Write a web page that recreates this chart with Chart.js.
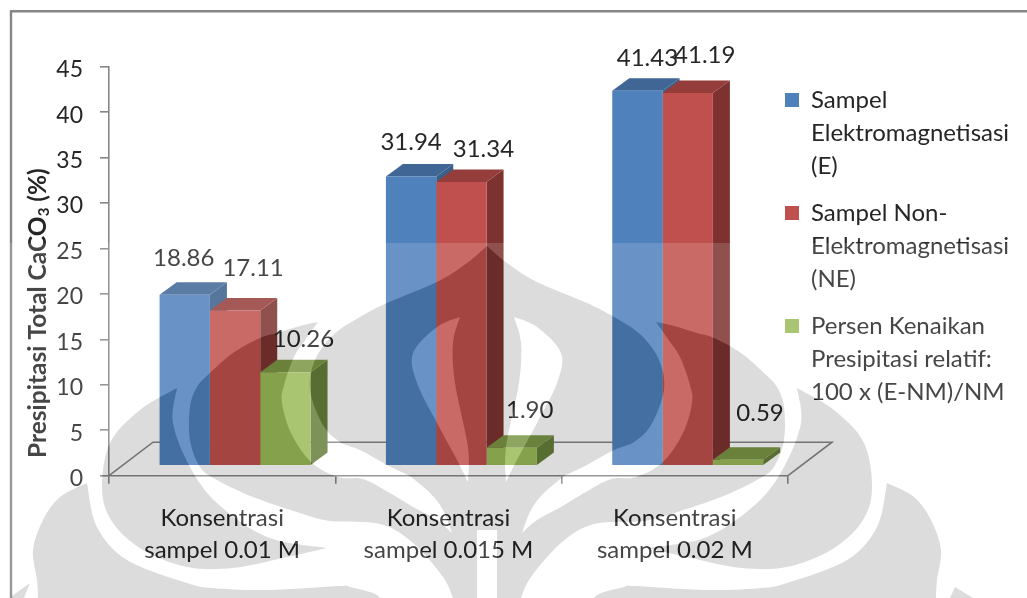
<!DOCTYPE html>
<html>
<head>
<meta charset="utf-8">
<title>Presipitasi Total CaCO3</title>
<script src="https://cdn.jsdelivr.net/npm/chart.js@4"></script>
<style>
  html, body { margin: 0; padding: 0; background: #fff; }
  canvas { display: block; }
</style>
</head>
<body>
<canvas id="chart" width="1027" height="598"></canvas>
<script>
var categories = [['Konsentrasi', 'sampel 0.01 M'], ['Konsentrasi', 'sampel 0.015 M'], ['Konsentrasi', 'sampel 0.02 M']];
var valuesE = [18.86, 31.94, 41.43];
var valuesNE = [17.11, 31.34, 41.19];
var valuesRise = [10.26, 1.90, 0.59];
var yTicks = [0, 5, 10, 15, 20, 25, 30, 35, 40, 45];
var legendE = ['Sampel', 'Elektromagnetisasi', '(E)'];
var legendNE = ['Sampel Non-', 'Elektromagnetisasi', '(NE)'];
var legendRise = ['Persen Kenaikan', 'Presipitasi relatif:', '100 x (E-NM)/NM'];

var FONT = 'Lato, Carlito, "Open Sans", sans-serif';
var TEXT = '#262626';
var AXIS = '#868686';
var FRONT = ['#4F81BD', '#C0504D', '#9BBB59'];
var TOP = ['#3F6695', '#943D3A', '#7A9644'];
var SIDE = ['#3A5F8B', '#7D3230', '#677F3B'];
var DEPTH_X = 17, DEPTH_Y = 12.5;

// label shift from the middle of each bar front, per series and group
var labelShift = [
  [[-1, -36], [0, -34], [10, -33]],
  [[18, -42], [22, -33], [17, -38]],
  [[18, -33], [18, -38], [22, -46]]
];

function barData(values) {
  return values.map(function (v, i) { return { x: i, y: v }; });
}

// runs a smooth line through the points, ends stay sharp
function spline(path, pts, flip) {
  var p = pts.map(function (q) { return flip ? [974 - q[0], q[1]] : q; });
  for (var i = 0; i < p.length - 1; i++) {
    var a = p[Math.max(i - 1, 0)], b = p[i], c = p[i + 1], d = p[Math.min(i + 2, p.length - 1)];
    path.bezierCurveTo(b[0] + (c[0] - a[0]) / 6, b[1] + (c[1] - a[1]) / 6,
      c[0] - (d[0] - b[0]) / 6, c[1] - (d[1] - b[1]) / 6, c[0], c[1]);
  }
}

function closedShape(path, segments, flip) {
  var first = segments[0][0];
  path.moveTo(flip ? 974 - first[0] : first[0], first[1]);
  segments.forEach(function (s) { spline(path, s, flip); });
  path.closePath();
}

// background emblem, left half; the right half is its mirror about x = 487
var crescent = [
  [[177, 388], [140, 410], [110, 443], [102, 490], [113, 523], [143, 550], [187, 567], [233, 568], [283, 558], [327, 548]],
  [[327, 548], [267, 537], [217, 503], [190, 467], [173, 423], [177, 388]]
];
var outerBase = [
  [[87, 483], [60, 497], [43, 520], [33, 550], [37, 580], [38, 598]],
  [[38, 598], [380, 598]],
  [[380, 598], [373, 593], [350, 587], [340, 586], [267, 590], [213, 588], [187, 583], [127, 560], [97, 527], [87, 483]]
];
var leaf = [
  [[460, 317], [437, 327], [413, 353], [417, 383], [437, 423], [457, 460], [468, 482]],
  [[468, 482], [468, 447], [455, 383], [453, 343], [460, 317]]
];
var crownHalf = [
  [[487, 246], [467, 263], [437, 282], [387, 303], [360, 317], [333, 335], [315, 360], [310, 390], [323, 425], [340, 442], [360, 450], [387, 465], [410, 476]],
  [[410, 476], [430, 493], [443, 510], [452, 533]],
  [[452, 533], [437, 520], [413, 507], [390, 493], [363, 479], [338, 477], [311, 462], [291, 433], [282, 403], [284, 385], [294, 357], [306, 339], [318, 322]],
  [[318, 322], [300, 326], [277, 333], [260, 338], [233, 353], [210, 373], [197, 387], [190, 407], [190, 440], [200, 467], [217, 480], [253, 497], [300, 513], [330, 521], [380, 524], [413, 543], [443, 577], [453, 598]],
  [[453, 598], [477, 598]],
  [[477, 598], [477, 530]],
  [[477, 530], [487, 530]]
];

function emblemPath() {
  var path = new Path2D();
  closedShape(path, crescent, false);
  closedShape(path, crescent, true);
  closedShape(path, outerBase, false);
  closedShape(path, outerBase, true);
  closedShape(path, leaf, false);
  closedShape(path, leaf, true);
  // crown is one outline: down the left half, back up the mirrored right half
  path.moveTo(487, 246);
  crownHalf.forEach(function (s) { spline(path, s, false); });
  crownHalf.slice().reverse().forEach(function (s) { spline(path, s.slice().reverse(), true); });
  path.closePath();
  // corner pieces
  path.moveTo(30, 583); path.lineTo(12, 596); path.lineTo(12, 598); path.lineTo(24, 598); path.closePath();
  path.moveTo(955, 587); path.lineTo(973, 598); path.lineTo(950, 598); path.closePath();
  return path;
}

var frameAndFloor = {
  id: 'frameAndFloor',
  beforeDraw: function (chart) {
    var ctx = chart.ctx;
    ctx.save();
    ctx.strokeStyle = AXIS;
    ctx.lineWidth = 2.4;
    ctx.beginPath();
    ctx.moveTo(11, 598);
    ctx.lineTo(11, 11.3);
    ctx.lineTo(1027, 11.3);
    ctx.stroke();
    ctx.restore();
  },
  beforeDatasetsDraw: function (chart) {
    var ctx = chart.ctx, area = chart.chartArea;
    ctx.save();
    ctx.strokeStyle = AXIS;
    ctx.lineWidth = 1.6;
    ctx.beginPath();
    ctx.moveTo(area.left, area.bottom);
    ctx.lineTo(area.left + 44, area.bottom - 33.5);
    ctx.lineTo(area.right + 44, area.bottom - 33.5);
    ctx.lineTo(area.right, area.bottom);
    ctx.stroke();

    // side and top faces go under the fronts, left series first
    chart.data.datasets.forEach(function (ds, d) {
      chart.getDatasetMeta(d).data.forEach(function (bar) {
        var l = bar.x - bar.width / 2, r = bar.x + bar.width / 2;
        ctx.fillStyle = SIDE[d];
        ctx.beginPath();
        ctx.moveTo(r, bar.y);
        ctx.lineTo(r + DEPTH_X, bar.y - DEPTH_Y);
        ctx.lineTo(r + DEPTH_X, bar.base - DEPTH_Y);
        ctx.lineTo(r, bar.base);
        ctx.fill();
        ctx.fillStyle = TOP[d];
        ctx.beginPath();
        ctx.moveTo(l, bar.y);
        ctx.lineTo(l + DEPTH_X, bar.y - DEPTH_Y);
        ctx.lineTo(r + DEPTH_X, bar.y - DEPTH_Y);
        ctx.lineTo(r, bar.y);
        ctx.fill();
      });
    });
    ctx.restore();
  },
  afterLayout: function (chart) {
    // legend sits beside the floor, outside the plot area
    chart.legend.left = 771;
    chart.legend.right = 1027;
    chart.legend.top = 74;
    chart.legend.bottom = 598;
  }
};

var textAndEmblem = {
  id: 'textAndEmblem',
  afterDatasetsDraw: function (chart) {
    var ctx = chart.ctx;
    ctx.save();
    ctx.fillStyle = TEXT;
    ctx.font = '24px ' + FONT;
    ctx.textAlign = 'center';
    ctx.textBaseline = 'middle';
    chart.data.datasets.forEach(function (ds, d) {
      chart.getDatasetMeta(d).data.forEach(function (bar, i) {
        var shift = labelShift[d][i];
        ctx.fillText(ds.data[i].y.toFixed(2), bar.x + shift[0], bar.y + shift[1]);
      });
    });
    ctx.restore();

    // y axis title with its subscript
    ctx.save();
    ctx.fillStyle = TEXT;
    ctx.translate(38, 458);
    ctx.rotate(-Math.PI / 2);
    ctx.textBaseline = 'middle';
    ctx.textAlign = 'left';
    ctx.font = 'bold 24.5px ' + FONT;
    var head = 'Presipitasi Total CaCO', tail = ' (%)';
    ctx.fillText(head, 0, 0);
    var w = ctx.measureText(head).width;
    ctx.font = 'bold 15px ' + FONT;
    ctx.fillText('3', w, 6);
    w += ctx.measureText('3').width;
    ctx.font = 'bold 24.5px ' + FONT;
    ctx.fillText(tail, w, 0);
    ctx.restore();
  },
  afterDraw: function (chart) {
    var ctx = chart.ctx, emblem = emblemPath();
    var wash = new Path2D();
    wash.rect(0, 243, 1027, 355);
    wash.addPath(emblem);
    ctx.save();
    ctx.beginPath();
    ctx.rect(0, 243, 1027, 355);
    ctx.clip();
    ctx.fillStyle = 'rgba(255,255,255,0.15)';
    ctx.fill(wash, 'evenodd');
    ctx.fillStyle = 'rgba(0,0,0,0.136)';
    ctx.fill(emblem, 'evenodd');
    ctx.restore();
  }
};

function generateChart(selectorId) {
  var ctx = document.getElementById(selectorId).getContext('2d');
  return new Chart(ctx, {
    type: 'bar',
    data: {
      labels: categories,
      datasets: [
        { label: 'E', data: barData(valuesE), backgroundColor: FRONT[0], xAxisID: 'xFront', yAxisID: 'yFront' },
        { label: 'NE', data: barData(valuesNE), backgroundColor: FRONT[1], xAxisID: 'xFront', yAxisID: 'yFront' },
        { label: 'Rise', data: barData(valuesRise), backgroundColor: FRONT[2], xAxisID: 'xFront', yAxisID: 'yFront' }
      ]
    },
    options: {
      responsive: false,
      animation: false,
      events: [],
      layout: { padding: { left: 0, top: 66.7, right: 239, bottom: 0 } },
      datasets: { bar: { categoryPercentage: 0.667, barPercentage: 1 } },
      scales: {
        x: {
          type: 'category',
          labels: categories,
          position: 'bottom',
          offset: true,
          afterFit: function (scale) { scale.height = 122.3; },
          grid: { drawOnChartArea: false, offset: true, tickLength: 8, color: AXIS, lineWidth: 1.6 },
          border: { color: AXIS, width: 1.6 },
          ticks: { autoSkip: false, maxRotation: 0, padding: 18, color: TEXT, font: { family: FONT, size: 24, lineHeight: 1.35 } }
        },
        y: {
          type: 'linear',
          position: 'left',
          min: 0,
          max: 45,
          afterFit: function (scale) { scale.width = 109; },
          afterBuildTicks: function (scale) { scale.ticks = yTicks.map(function (v) { return { value: v }; }); },
          grid: { drawOnChartArea: false, tickLength: 9, color: AXIS, lineWidth: 1.6 },
          border: { color: AXIS, width: 1.6 },
          ticks: { padding: 17, labelOffset: 3, color: TEXT, font: { family: FONT, size: 23 } }
        },
        // the bars stand on the front edge of the floor, in front of the drawn axes
        xFront: {
          type: 'linear',
          display: false,
          offset: false,
          min: -0.557,
          max: 2.443,
          afterBuildTicks: function (scale) { scale.ticks = categories.map(function (c, i) { return { value: i }; }); }
        },
        yFront: { type: 'linear', display: false, min: -1.185, max: 44.1 }
      },
      plugins: {
        tooltip: { enabled: false },
        legend: {
          position: 'chartArea',
          align: 'start',
          labels: {
            boxWidth: 14,
            boxHeight: 14,
            padding: 14,
            color: TEXT,
            font: { family: FONT, size: 24, lineHeight: 1.375 },
            generateLabels: function () {
              return [legendE, legendNE, legendRise].map(function (lines, i) {
                return { text: lines, fillStyle: FRONT[i], strokeStyle: FRONT[i], lineWidth: 0, datasetIndex: i, fontColor: TEXT };
              });
            }
          }
        }
      }
    },
    plugins: [frameAndFloor, textAndEmblem]
  });
}

generateChart('chart');
</script>
</body>
</html>
